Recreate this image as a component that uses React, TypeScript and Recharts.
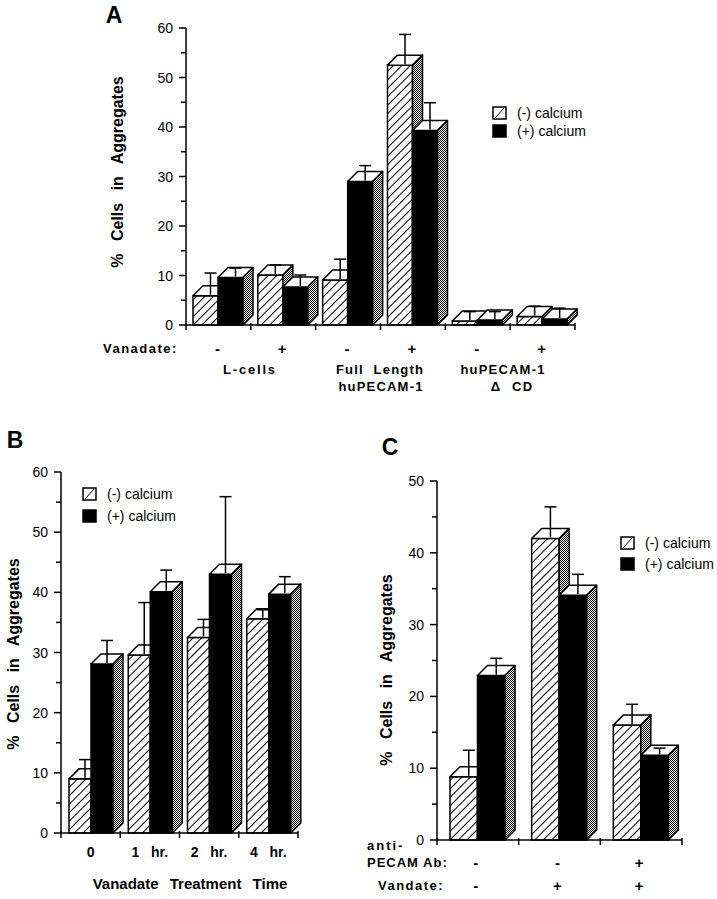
import React from 'react';
import { BarChart, Bar, XAxis, YAxis } from 'recharts';

const FONT = '"Liberation Sans", Arial, Helvetica, sans-serif';
const DEPTH = 10;
const SW = 1.5;
const YW = 40; // y axis width reserved
const XH = 30; // x axis height reserved

// ---------- Panel A data ----------
const catsA = ['-', '+', '-', '+', '-', '+'];
const minusCaA = [5.9, 10.1, 9.1, 52.5, 0.8, 1.7];
const minusCaErrA = [4.6, 2.0, 4.2, 6.2, 1.9, 2.1];
const plusCaA = [9.6, 7.7, 29.0, 39.3, 1.0, 1.2];
const plusCaErrA = [1.9, 2.4, 3.2, 5.6, 1.7, 2.2];
const ticksA = [0, 5, 10, 15, 20, 25, 30, 35, 40, 45, 50, 55, 60];

// ---------- Panel B data ----------
const catsB = ['0', '1   hr.', '2   hr.', '4   hr.'];
const minusCaB = [9.0, 29.6, 32.5, 35.6];
const minusCaErrB = [3.2, 8.7, 3.0, 1.5];
const plusCaB = [28.1, 40.1, 43.0, 39.7];
const plusCaErrB = [3.9, 3.6, 12.9, 2.9];
const ticksB = [0, 5, 10, 15, 20, 25, 30, 35, 40, 45, 50, 55, 60];

// ---------- Panel C data ----------
const antiPecamC = ['-', '-', '+'];
const vanadateC = ['-', '+', '+'];
const minusCaC = [8.8, 42.0, 16.0];
const minusCaErrC = [3.7, 4.4, 2.9];
const plusCaC = [22.9, 34.1, 11.8];
const plusCaErrC = [2.4, 2.9, 1.0];
const ticksC = [0, 5, 10, 15, 20, 25, 30, 35, 40, 45, 50];

const legendLabels = ['(-) calcium', '(+) calcium'];

const dataA = catsA.map((c, i) => ({ id: 'a' + i, minus: minusCaA[i], minusErr: minusCaErrA[i], plus: plusCaA[i], plusErr: plusCaErrA[i] }));
const dataB = catsB.map((c, i) => ({ id: 'b' + i, minus: minusCaB[i], minusErr: minusCaErrB[i], plus: plusCaB[i], plusErr: plusCaErrB[i] }));
const dataC = antiPecamC.map((c, i) => ({ id: 'c' + i, minus: minusCaC[i], minusErr: minusCaErrC[i], plus: plusCaC[i], plusErr: plusCaErrC[i] }));

const makeBox = (fill: string, valueKey: string, errKey: string) => (props: any) => {
  const { x, y, width, height, payload } = props;
  if (x == null || y == null) return null;
  const v = payload[valueKey];
  const d = DEPTH;
  const bottom = y + height;
  const ppu = v > 0 ? height / v : 0;
  const errY = y - payload[errKey] * ppu;
  const ex = x + width / 2 + d / 2;
  return (
    <g>
      <rect x={x} y={y} width={width} height={height} fill={fill} stroke="#000" strokeWidth={SW} />
      <polygon
        points={`${x},${y} ${x + width},${y} ${x + width + d},${y - d} ${x + d},${y - d}`}
        fill="#fff" stroke="#000" strokeWidth={SW} strokeLinejoin="round"
      />
      <polygon
        points={`${x + width},${y} ${x + width + d},${y - d} ${x + width + d},${bottom - d} ${x + width},${bottom}`}
        fill="url(#dots)" stroke="#000" strokeWidth={SW} strokeLinejoin="round"
      />
      <line x1={ex} x2={ex} y1={y - 1} y2={errY} stroke="#000" strokeWidth={SW} />
      <line x1={ex - 6} x2={ex + 6} y1={errY} y2={errY} stroke="#000" strokeWidth={SW} />
    </g>
  );
};

const makeYTick = (axisX: number) => (props: any) => {
  const { y, payload } = props;
  if (payload.value % 10 !== 0) return <g />;
  return (
    <text x={axisX - 13} y={y} dominantBaseline="central" textAnchor="end" fontSize={14} fontFamily={FONT} fill="#000">
      {payload.value}
    </text>
  );
};

const makeXTick = (axisY: number, render: (x: number, y: number, i: number) => React.ReactNode) => (props: any) => {
  const { x, index } = props;
  return <g>{render(x, axisY, index)}</g>;
};

const boldText = (x: number, y: number, s: string, size = 14) => (
  <text x={x} y={y} dominantBaseline="central" textAnchor="middle" fontSize={size} fontWeight="bold" fontFamily={FONT} fill="#000" style={{ whiteSpace: 'pre' }}>
    {s}
  </text>
);

// Layout constants (page coordinates)
const A = { ox: 0, oy: 0, left: 186, top: 28, right: 575, bottom: 325, W: 717, H: 400, max: 60, n: catsA.length, ticks: ticksA };
const B = { ox: 0, oy: 440, left: 61, top: 472, right: 298, bottom: 833, W: 330, H: 459, max: 60, n: catsB.length, ticks: ticksB };
const C = { ox: 340, oy: 440, left: 437, top: 481, right: 682, bottom: 840, W: 377, H: 459, max: 50, n: antiPecamC.length, ticks: ticksC };

const YTickA = makeYTick(A.left - A.ox);
const YTickB = makeYTick(B.left - B.ox);
const YTickC = makeYTick(C.left - C.ox);

const XTickA = makeXTick(A.bottom - A.oy, (x, y, i) => boldText(x - 1, y + 23, catsA[i], 15));
const XTickB = makeXTick(B.bottom - B.oy, (x, y, i) => boldText(x, y + 19, catsB[i], 14));
const XTickC = makeXTick(C.bottom - C.oy, (x, y, i) => (
  <g>
    {boldText(x - 2, y + 22, antiPecamC[i], 15)}
    {boldText(x - 2, y + 45, vanadateC[i], 15)}
  </g>
));

// Axis tick marks (page-level overlay): y ticks at every tick value, x ticks at category boundaries
const AxisMarks = ({ P }: any) => {
  const yOf = (t: number) => P.bottom - (t / P.max) * (P.bottom - P.top);
  const bw = (P.right - P.left) / P.n;
  return (
    <g>
      {P.ticks.map((t: number) => (
        <line key={'y' + t} x1={P.left - (t % 10 === 0 ? 7 : 5)} x2={P.left} y1={yOf(t)} y2={yOf(t)} stroke="#000" strokeWidth={SW} />
      ))}
      {Array.from({ length: P.n + 1 }, (_, k) => (
        <line key={'x' + k} x1={P.left + k * bw} x2={P.left + k * bw} y1={P.bottom - 2} y2={P.bottom + 5} stroke="#000" strokeWidth={SW} />
      ))}
    </g>
  );
};

const Txt = ({ x, y, children, size = 13, bold = false, anchor = 'middle', ls = 0, ws = 0, rotate = false }: any) => (
  <div
    style={{
      position: 'absolute', left: x, top: y, fontFamily: FONT, fontSize: size, fontWeight: bold ? 'bold' : 'normal',
      letterSpacing: ls, wordSpacing: ws, whiteSpace: 'pre', lineHeight: 1, color: '#000',
      transform: rotate ? 'translate(-50%,-50%) rotate(-90deg)' : anchor === 'middle' ? 'translate(-50%,-50%)' : 'translate(0,-50%)',
    }}
  >
    {children}
  </div>
);

const Legend = ({ x, y, gap = 22 }: any) => (
  <div style={{ position: 'absolute', left: x, top: y }}>
    {legendLabels.map((l, i) => (
      <div key={l} style={{ position: 'absolute', left: 0, top: i * gap, height: 14, width: 120 }}>
        <svg width={16} height={14} style={{ position: 'absolute', left: 0, top: 0 }}>
          <rect x={1} y={1} width={13} height={12} fill={i === 0 ? '#fff' : '#000'} stroke="#000" strokeWidth={SW} />
          {i === 0 && <line x1={3} y1={12} x2={12} y2={2} stroke="#000" strokeWidth={1} />}
        </svg>
        <span style={{ position: 'absolute', left: 25, top: 0, fontFamily: FONT, fontSize: 14, lineHeight: '14px', whiteSpace: 'pre' }}>{l}</span>
      </div>
    ))}
  </div>
);

const yAxisProps = {
  width: YW, tickSize: 0, tickMargin: 0, interval: 0 as const, tickLine: false,
  axisLine: { stroke: '#000', strokeWidth: SW }, allowDecimals: true,
};
const xAxisProps = {
  dataKey: 'id', height: XH, tickSize: 0, tickMargin: 0, interval: 0 as const, tickLine: false,
  axisLine: { stroke: '#000', strokeWidth: SW },
};

const chartMargin = (P: any) => ({
  top: P.top - P.oy, left: P.left - P.ox - YW, right: P.W - (P.right - P.ox), bottom: P.H - (P.bottom - P.oy) - XH,
});

export default function App() {
  return (
    <div style={{ position: 'absolute', left: 0, top: 0, width: 717, height: 899, background: '#fff', overflow: 'hidden' }}>
      <svg width={0} height={0} style={{ position: 'absolute' }}>
        <defs>
          <pattern id="hatch" patternUnits="userSpaceOnUse" width={6} height={6} patternTransform="rotate(45)">
            <rect x={0} y={0} width={6} height={6} fill="#fff" />
            <line x1={0.5} y1={0} x2={0.5} y2={6} stroke="#000" strokeWidth={1} />
          </pattern>
          <pattern id="dots" patternUnits="userSpaceOnUse" width={2} height={2}>
            <rect x={0} y={0} width={2} height={2} fill="#fff" />
            <rect x={0} y={0} width={1} height={1} fill="#000" />
            <rect x={1} y={1} width={1} height={1} fill="#000" />
          </pattern>
        </defs>
      </svg>

      {/* Panel A */}
      <div style={{ position: 'absolute', left: A.ox, top: A.oy }}>
        <BarChart width={A.W} height={A.H} data={dataA} barGap={0} margin={chartMargin(A)}>
          <XAxis {...xAxisProps} tick={<XTickA />} />
          <YAxis domain={[0, 60]} ticks={ticksA} {...yAxisProps} tick={<YTickA />} />
          <Bar dataKey="minus" barSize={25} isAnimationActive={false} shape={makeBox('url(#hatch)', 'minus', 'minusErr')} />
          <Bar dataKey="plus" barSize={25} isAnimationActive={false} shape={makeBox('#000', 'plus', 'plusErr')} />
        </BarChart>
      </div>
      <Txt x={114} y={15} size={23} bold anchor="middle">A</Txt>
      <Txt x={118} y={172} size={16} bold rotate ws={8}>% Cells in Aggregates</Txt>
      <Legend x={492} y={106} gap={18} />
      <Txt x={103} y={348} size={13} bold anchor="left" ls={1.5}>Vanadate:</Txt>
      <Txt x={250} y={369} size={13} bold ls={1.8}>L-cells</Txt>
      <Txt x={380} y={369} size={13} bold ls={1.2} ws={5}>Full Length</Txt>
      <Txt x={381} y={386} size={13} bold ls={1.2}>huPECAM-1</Txt>
      <Txt x={503} y={369} size={13} bold ls={1.2}>huPECAM-1</Txt>
      <Txt x={512} y={386} size={13} bold ls={1.2} ws={6}>Δ CD</Txt>

      {/* Panel B */}
      <div style={{ position: 'absolute', left: B.ox, top: B.oy }}>
        <BarChart width={B.W} height={B.H} data={dataB} barGap={0} margin={chartMargin(B)}>
          <XAxis {...xAxisProps} tick={<XTickB />} />
          <YAxis domain={[0, 60]} ticks={ticksB} {...yAxisProps} tick={<YTickB />} />
          <Bar dataKey="minus" barSize={22} isAnimationActive={false} shape={makeBox('url(#hatch)', 'minus', 'minusErr')} />
          <Bar dataKey="plus" barSize={22} isAnimationActive={false} shape={makeBox('#000', 'plus', 'plusErr')} />
        </BarChart>
      </div>
      <Txt x={15} y={440} size={23} bold anchor="middle">B</Txt>
      <Txt x={14} y={654} size={16} bold rotate ws={8}>% Cells in Aggregates</Txt>
      <Legend x={82} y={487} gap={22} />
      <Txt x={190} y={883} size={15} bold ws={7}>Vanadate Treatment Time</Txt>

      {/* Panel C */}
      <div style={{ position: 'absolute', left: C.ox, top: C.oy }}>
        <BarChart width={C.W} height={C.H} data={dataC} barGap={0} margin={chartMargin(C)}>
          <XAxis {...xAxisProps} tick={<XTickC />} />
          <YAxis domain={[0, 50]} ticks={ticksC} {...yAxisProps} tick={<YTickC />} />
          <Bar dataKey="minus" barSize={27.5} isAnimationActive={false} shape={makeBox('url(#hatch)', 'minus', 'minusErr')} />
          <Bar dataKey="plus" barSize={27.5} isAnimationActive={false} shape={makeBox('#000', 'plus', 'plusErr')} />
        </BarChart>
      </div>
      <Txt x={390} y={447} size={23} bold anchor="middle">C</Txt>
      <Txt x={387} y={670} size={16} bold rotate ws={8}>% Cells in Aggregates</Txt>
      <Legend x={620} y={536} gap={21} />
      <Txt x={367} y={845} size={13} bold anchor="left" ls={2}>anti-</Txt>
      <Txt x={367} y={862} size={13} bold anchor="left" ls={1}>PECAM Ab:</Txt>
      <Txt x={378} y={885} size={13} bold anchor="left" ls={1.5}>Vandate:</Txt>

      <svg width={717} height={899} style={{ position: 'absolute', left: 0, top: 0, pointerEvents: 'none' }}>
        <AxisMarks P={A} />
        <AxisMarks P={B} />
        <AxisMarks P={C} />
      </svg>
    </div>
  );
}
